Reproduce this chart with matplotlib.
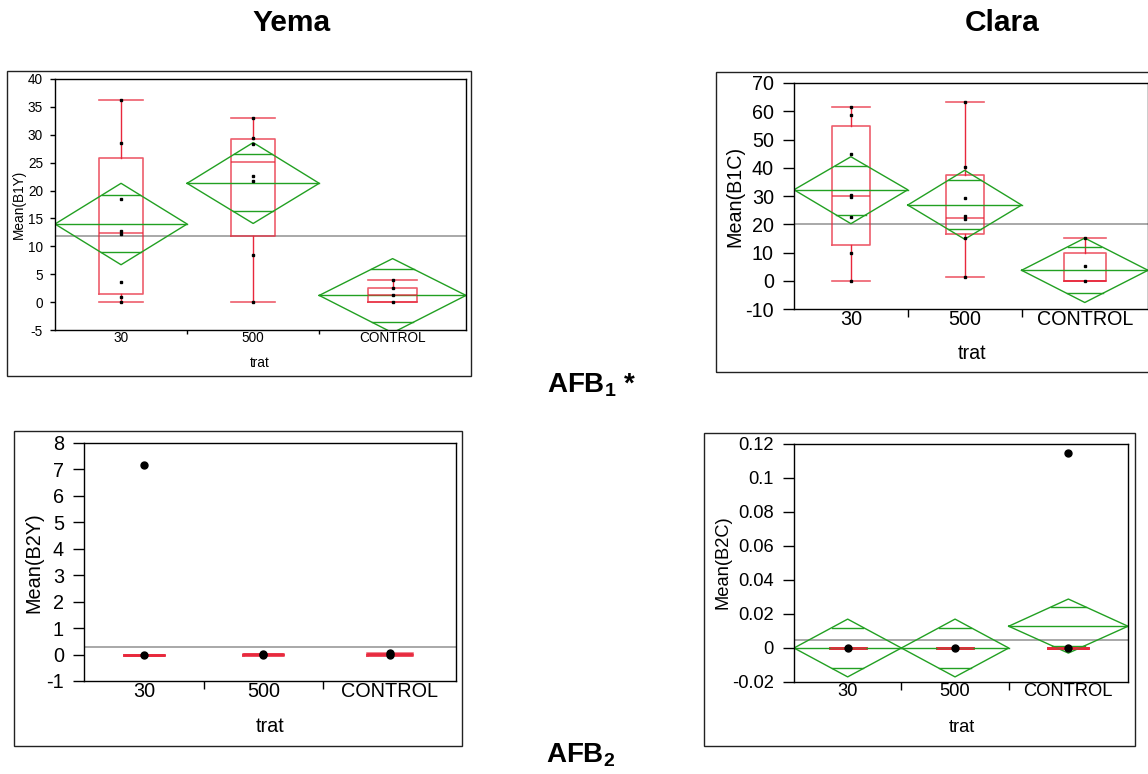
import numpy as np
import matplotlib
matplotlib.use('Agg')
import matplotlib.pyplot as plt
from matplotlib.patches import Rectangle

plt.rcParams['font.family'] = ['Liberation Sans', 'DejaVu Sans']
plt.rcParams['axes.unicode_minus'] = False
plt.rcParams['mathtext.fontset'] = 'custom'
plt.rcParams['mathtext.rm'] = 'Liberation Sans'
plt.rcParams['mathtext.bf'] = 'Liberation Sans:bold'

groups = ['30', '500', 'CONTROL']
group_n = [9, 9, 10]

# box stats: whislo, q1, med, q3, whishi
b1y_box = [[0.0, 1.5, 12.4, 25.9, 36.3],
           [0.0, 11.8, 25.2, 29.2, 33.0],
           [0.0, 0.0, 1.2, 2.5, 3.9]]
b1y_pts = [[36.3, 28.5, 18.4, 12.7, 12.2, 3.6, 0.9, 0.0],
           [33.0, 29.5, 28.3, 22.6, 21.8, 8.5, 0.0],
           [3.9, 2.5, 1.3, 0.0]]
b1y_diam = [[14.0, 21.3, 6.7], [21.3, 28.6, 14.1], [1.2, 7.8, -5.5]]  # mean, upper, lower
b1y_ovl = [[19.2, 8.9], [26.5, 16.3], [5.9, -3.6]]
b1y_grand = 11.8

b1c_box = [[0.0, 12.6, 30.0, 54.8, 61.5],
           [1.5, 16.6, 22.3, 37.4, 63.3],
           [0.0, 0.0, 0.0, 9.9, 15.3]]
b1c_pts = [[61.5, 58.7, 44.8, 30.3, 29.8, 22.6, 9.8, 0.0],
           [63.3, 40.3, 29.3, 22.8, 21.7, 15.0, 1.5],
           [15.3, 5.1, 0.0]]
b1c_diam = [[32.2, 43.9, 20.2], [26.8, 39.1, 14.7], [3.7, 15.1, -7.7]]
b1c_ovl = [[40.6, 23.4], [35.6, 18.2], [12.1, -4.5]]
b1c_grand = 20.1

b2y_box = [[0.0, 0.0, 0.0, 0.0, 0.0],
           [0.0, 0.0, 0.01, 0.02, 0.03],
           [0.0, 0.0, 0.01, 0.03, 0.06]]
b2y_pts = [[7.15, 0.0], [0.02, 0.0], [0.07, 0.0]]
b2y_grand = 0.3

b2c_box = [[0.0, 0.0, 0.0, 0.0, 0.0],
           [0.0, 0.0, 0.0, 0.0, 0.0],
           [0.0, 0.0, 0.0, 0.0, 0.0]]
b2c_pts = [[0.0], [0.0], [0.115, 0.0]]
b2c_diam = [[0.0, 0.017, -0.017], [0.0, 0.017, -0.017], [0.0128, 0.0288, -0.003]]
b2c_ovl = [[0.012, -0.012], [0.012, -0.012], [0.0242, 0.0014]]
b2c_grand = 0.0047

b1y_ticks = list(range(-5, 41, 5))
b1c_ticks = list(range(-10, 71, 10))
b2y_ticks = list(range(-1, 9))
b2c_ticks = [-0.02, 0, 0.02, 0.04, 0.06, 0.08, 0.1, 0.12]

RED = '#e8283c'
GREEN = '#22a022'
W, H = 1148, 774
fig = plt.figure(figsize=(W / 100, H / 100), dpi=100)

edges = np.concatenate([[0], np.cumsum(group_n)]).astype(float)
centers = (edges[:-1] + edges[1:]) / 2
widths = np.diff(edges)


def frame(l, t, r, b):
    fig.patches.append(Rectangle((l / W, 1 - b / H), (r - l) / W, (b - t) / H,
                                 transform=fig.transFigure, fill=False,
                                 ec='#222222', lw=1.0))


def panel(px, box, pts, grand, ylim, yticks, ylabel, fs, xlab_px, ylab_px,
          diam=None, ovl=None, ms=2.0, mk='s', tl=8, tp=6.5, boxlw=1.2):
    l, t, r, b = px
    ax = fig.add_axes([l / W, 1 - b / H, (r - l) / W, (b - t) / H])
    stats = [dict(whislo=s[0], q1=s[1], med=s[2], q3=s[3], whishi=s[4], fliers=[])
             for s in box]
    ax.bxp(stats, positions=centers, widths=widths / 3, capwidths=widths / 3,
           showfliers=False, manage_ticks=False,
           boxprops=dict(color=RED, lw=boxlw, alpha=0.75),
           whiskerprops=dict(color=RED, lw=1.0),
           capprops=dict(color=RED, lw=boxlw, alpha=0.75),
           medianprops=dict(color=RED, lw=boxlw, alpha=0.75))
    ax.axhline(grand, color='#999999', lw=1.2, zorder=1)
    if diam is not None:
        for i in range(len(groups)):
            x0, x1, xc = edges[i], edges[i + 1], centers[i]
            m, hi, lo = diam[i]
            ax.plot([x0, xc, x1, xc, x0], [m, hi, m, lo, m], color=GREEN, lw=1.0)
            ax.plot([x0, x1], [m, m], color=GREEN, lw=1.0)
            for y in ovl[i]:
                if y > m:
                    frac = 1 - (y - m) / (hi - m)
                else:
                    frac = 1 - (m - y) / (m - lo)
                hw = widths[i] / 2 * frac
                ax.plot([xc - hw, xc + hw], [y, y], color=GREEN, lw=1.0)
    for i in range(len(groups)):
        ax.plot(np.full(len(pts[i]), centers[i]), pts[i], ls='none', marker=mk,
                ms=ms, color='black', zorder=5)
    ax.set_xlim(edges[0], edges[-1])
    ax.set_ylim(*ylim)
    ax.set_yticks(yticks)
    ax.set_yticklabels(['%g' % round(v, 6) for v in yticks])
    ax.set_xticks(edges[1:-1])
    ax.set_xticklabels([])
    ax.set_xticks(centers, minor=True)
    ax.set_xticklabels(groups, minor=True)
    ax.tick_params(axis='y', length=tl, width=1, pad=tp, labelsize=fs)
    ax.tick_params(axis='x', which='major', length=tl * 0.75, width=1)
    ax.tick_params(axis='x', which='minor', length=0, pad=1, labelsize=fs)
    for s in ax.spines.values():
        s.set_linewidth(1.0)
    ax.set_xlabel('trat', fontsize=fs)
    ax.set_ylabel(ylabel, fontsize=fs)
    ax.xaxis.set_label_coords((xlab_px[0] - l) / (r - l), (b - xlab_px[1]) / (b - t))
    ax.yaxis.set_label_coords((ylab_px[0] - l) / (r - l), (b - ylab_px[1]) / (b - t))
    ax.xaxis.label.set_va('center')
    ax.yaxis.label.set_va('center')
    return ax


frame(7, 71, 471, 376)
panel((55, 79, 466, 330), b1y_box, b1y_pts, b1y_grand, (-5, 40), b1y_ticks,
      'Mean(B1Y)', 9.8, (260, 363), (19, 204), diam=b1y_diam, ovl=b1y_ovl,
      ms=1.8, tl=3.6, tp=5)

frame(716, 72, 1160, 372)
panel((794, 83, 1148, 309), b1c_box, b1c_pts, b1c_grand, (-10, 70), b1c_ticks,
      'Mean(B1C)', 14.2, (972, 353), (735, 196), diam=b1c_diam, ovl=b1c_ovl,
      ms=2.0)

frame(14, 431, 462, 746)
panel((84, 443, 456, 681), b2y_box, b2y_pts, b2y_grand, (-1, 8), b2y_ticks,
      'Mean(B2Y)', 14.3, (270, 727), (34, 563), ms=5, mk='o', boxlw=1.8)

frame(704, 433, 1135, 746)
panel((794, 444, 1128, 682), b2c_box, b2c_pts, b2c_grand, (-0.02, 0.12), b2c_ticks,
      'Mean(B2C)', 13.2, (962, 727), (723, 562), diam=b2c_diam, ovl=b2c_ovl,
      ms=5, mk='o', boxlw=2.0)

fig.text(292 / W, 1 - 23 / H, 'Yema', ha='center', va='center',
         fontsize=21.5, fontweight='bold')
fig.text(1002 / W, 1 - 23 / H, 'Clara', ha='center', va='center',
         fontsize=21.5, fontweight='bold')
fig.text(547 / W, 1 - 392 / H, r'AFB$_\mathbf{1}$ *', ha='left', va='baseline',
         fontsize=20, fontweight='bold')
fig.text(546 / W, 1 - 762 / H, r'AFB$_\mathbf{2}$', ha='left', va='baseline',
         fontsize=20, fontweight='bold')

fig.savefig('out.png', dpi=100)
